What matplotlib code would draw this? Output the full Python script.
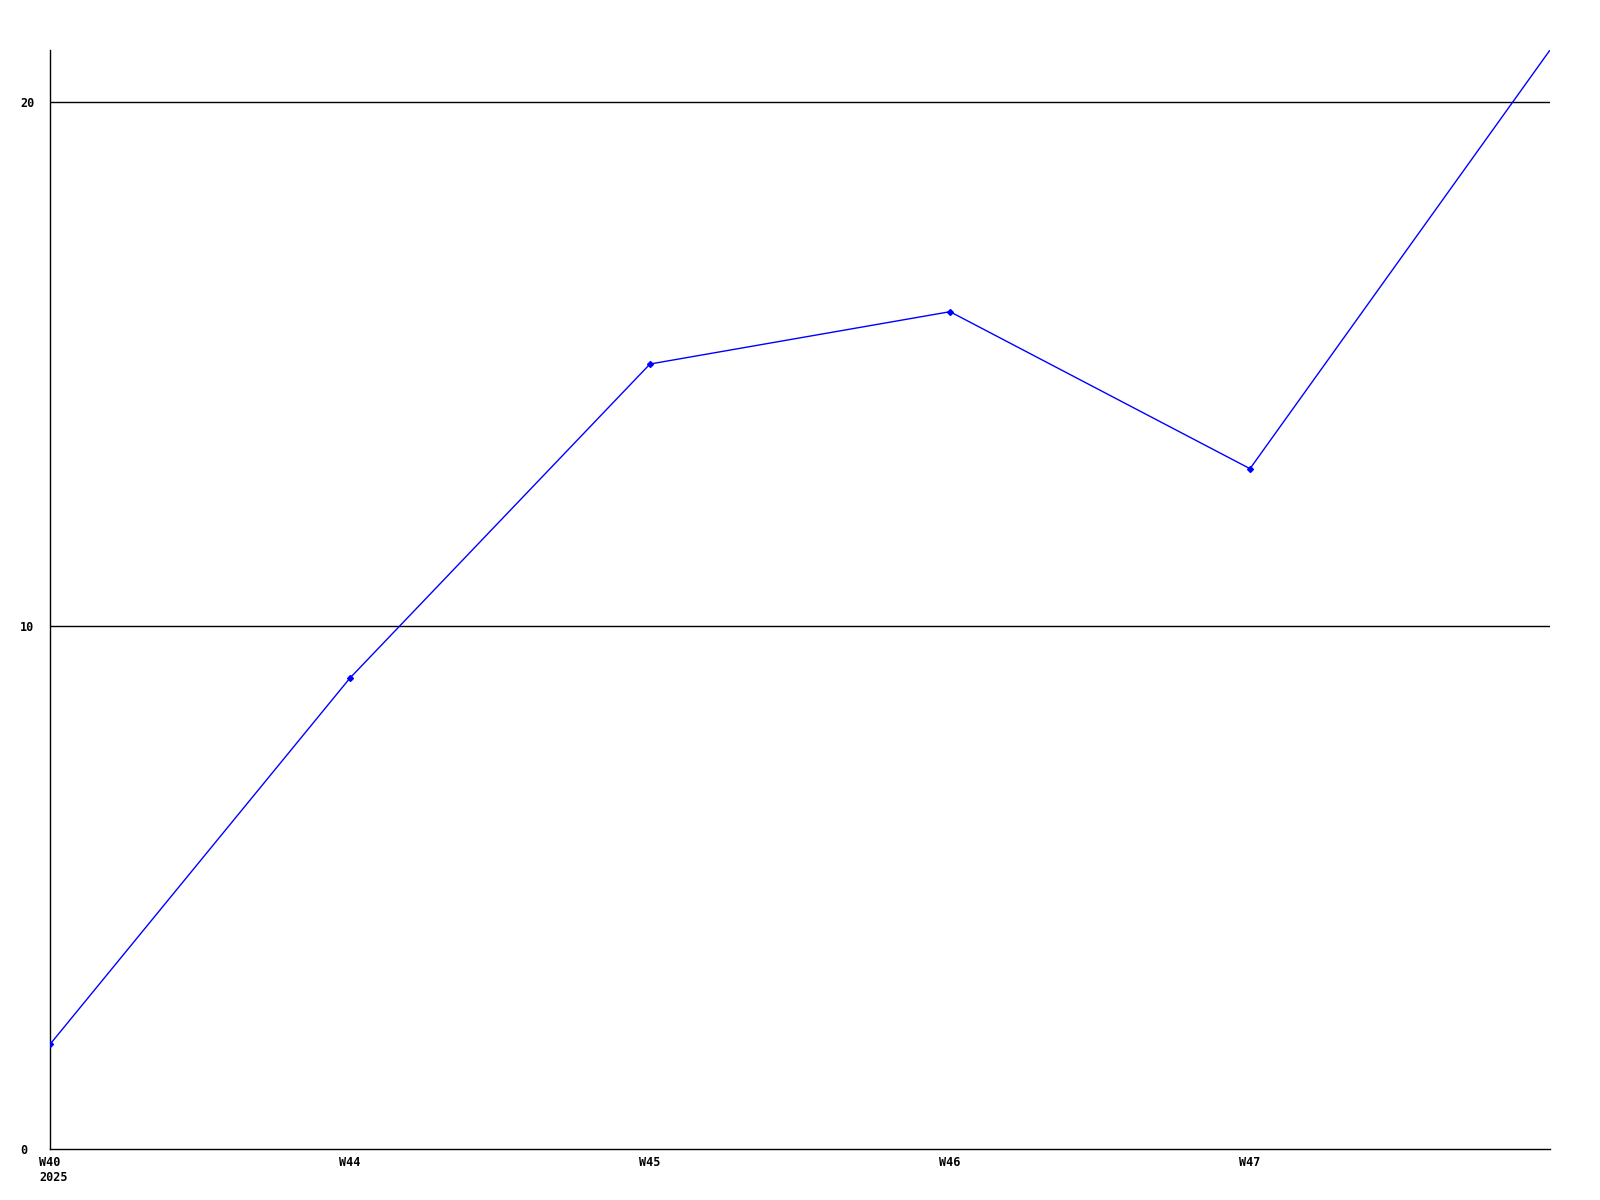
import matplotlib
matplotlib.use("Agg")
import matplotlib.pyplot as plt

# weekly values
weeks = ["W40", "W44", "W45", "W46", "W47", "W48"]
week_labels = ["W40", "W44", "W45", "W46", "W47", ""]
values = [2, 9, 15, 16, 13, 21]
year_label = "2025"
y_ticks = [0, 10, 20]

plt.rcParams['font.family'] = ['DejaVu Sans Mono']

fig = plt.figure(figsize=(16, 12), dpi=100)
ax = fig.add_axes([0.03125, 0.0425, 0.9375, 0.9158])

x = list(range(len(weeks)))
ax.plot(x, values, color=(0, 0, 1), linewidth=1, marker='D', markersize=3,
        markevery=list(range(len(weeks) - 1)), zorder=3)

ax.set_xlim(0, len(weeks) - 1)
ax.set_ylim(0, max(values))

# horizontal grid lines
for t in y_ticks[1:]:
    ax.axhline(t, color='black', linewidth=1, zorder=1)

ax.set_yticks(y_ticks)
ax.set_yticklabels([str(t) for t in y_ticks], fontsize=8.5, fontweight='bold', ha='left')
ax.set_xticks(x)
ax.set_xticklabels(week_labels, fontsize=8.5, fontweight='bold')
ax.tick_params(axis='both', length=0)
ax.tick_params(axis='y', pad=21.5)
ax.tick_params(axis='x', pad=5)

for s in ['top', 'right']:
    ax.spines[s].set_visible(False)
for s in ['left', 'bottom']:
    ax.spines[s].set_linewidth(1)

# year under the first week label
ax.annotate(year_label, xy=(0, 0), xycoords='data', xytext=(-11, -22),
            textcoords='offset pixels', ha='left', va='top',
            fontsize=8.5, fontweight='bold')

fig.savefig("out.png", dpi=100)
